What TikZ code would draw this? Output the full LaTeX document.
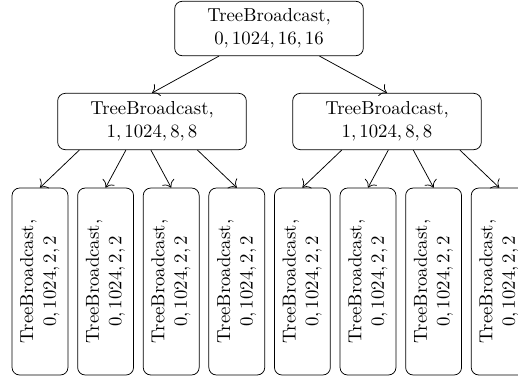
\documentclass[tikz,border=0pt]{standalone}
\usetikzlibrary{calc,arrows.meta}
\begin{document}
\begin{tikzpicture}[x=0.5328pt,y=-0.5328pt,
  box/.style={draw, rounded corners=4pt, align=center, inner sep=0pt, minimum width=100.5pt},
  leafbox/.style={draw, rounded corners=4pt, inner sep=0pt, minimum width=29.8pt, minimum height=99.6pt},
  arr/.style={-{To[scale=1.4]}}]
\useasboundingbox (0,0) rectangle (518,378);
\newcommand{\leaftext}{\rotatebox{90}{\begin{tabular}{@{}c@{}}TreeBroadcast,\\ $0, 1024, 2, 2$\end{tabular}}}
\node[box, minimum height=29pt] (top) at (269,28.5) {TreeBroadcast,\\ $0, 1024, 16, 16$};
\node[box, minimum height=30pt] (m1) at (152,121.5) {TreeBroadcast,\\ $1, 1024, 8, 8$};
\node[box, minimum height=30pt] (m2) at (387,121.5) {TreeBroadcast,\\ $1, 1024, 8, 8$};
\node[leafbox] (l1) at (40,281.5) {\leaftext};
\node[leafbox] (l2) at (105.6,281.5) {\leaftext};
\node[leafbox] (l3) at (171.2,281.5) {\leaftext};
\node[leafbox] (l4) at (236.8,281.5) {\leaftext};
\node[leafbox] (l5) at (302.4,281.5) {\leaftext};
\node[leafbox] (l6) at (368,281.5) {\leaftext};
\node[leafbox] (l7) at (433.6,281.5) {\leaftext};
\node[leafbox] (l8) at (499.2,281.5) {\leaftext};
\draw[arr] (top) -- (m1.north);
\draw[arr] (top) -- (m2.north);
\draw[arr] ([xshift=-38.7pt]m1.south) -- (l1.north);
\draw[arr] ([xshift=-13.9pt]m1.south) -- (l2.north);
\draw[arr] ([xshift=-0.6pt]m1.south) -- (l3.north);
\draw[arr] ([xshift=24.2pt]m1.south) -- (l4.north);
\draw[arr] ([xshift=-24.1pt]m2.south) -- (l5.north);
\draw[arr] ([xshift=0.7pt]m2.south) -- (l6.north);
\draw[arr] ([xshift=14.0pt]m2.south) -- (l7.north);
\draw[arr] ([xshift=38.8pt]m2.south) -- (l8.north);
\end{tikzpicture}
\end{document}
